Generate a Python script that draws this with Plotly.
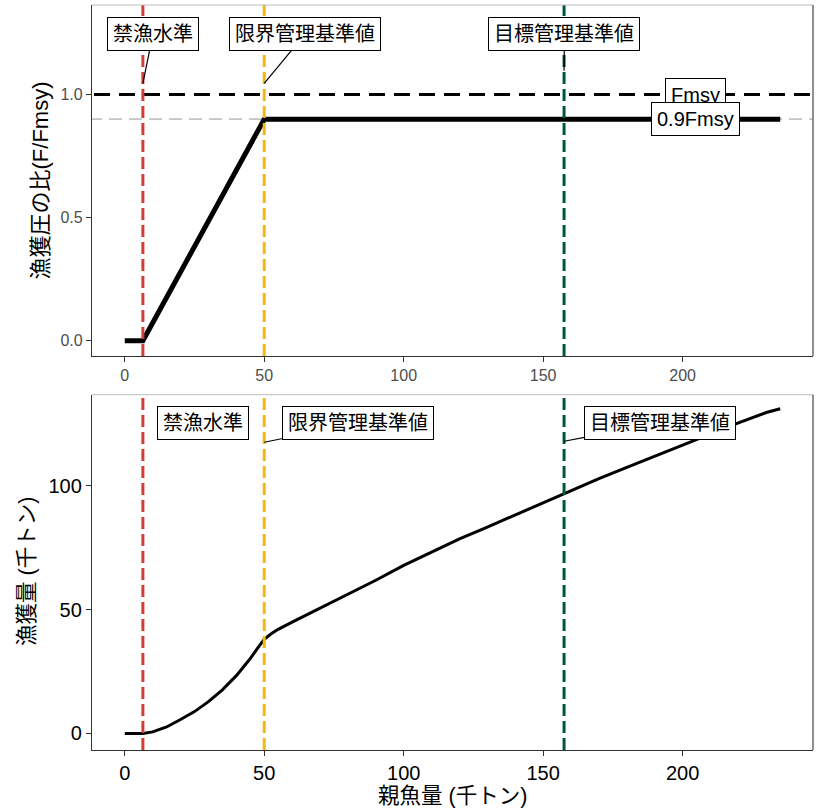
import plotly.graph_objects as go

# ---- data ----
ssb_f = [0, 6.5, 50, 235]
f_ratio = [0, 0, 0.9, 0.9]

ssb_c = [0, 6.5, 10, 15, 20, 25, 30, 35, 40, 45, 47.5, 50, 52.5, 55, 60, 65, 70, 75, 80,
         90, 100, 110, 120, 130, 140, 150, 157.5, 160, 170, 180, 190, 200, 210, 220, 230, 235]
catch = [0, 0, 0.6, 2.6, 5.6, 8.8, 12.8, 17.6, 23.3, 30.2, 34.2, 38, 40.2, 42, 44.9, 47.7,
         50.5, 53.1, 55.9, 61.8, 67.8, 73.3, 78.5, 83.3, 88.2, 93, 97, 98.1, 102.8, 107.4,
         111.9, 116.4, 120.9, 125.3, 129.5, 131]

ref_names = ["禁漁水準", "限界管理基準値", "目標管理基準値"]
ref_values = [6.5, 50, 157.5]
ref_colors = ["#CF3F33", "#EFB912", "#00573F"]

fmsy_levels = [1.0, 0.9]
fmsy_labels = ["Fmsy", "0.9Fmsy"]

x_ticks = [0, 50, 100, 150, 200]
top_y_ticks = [0.0, 0.5, 1.0]
bot_y_ticks = [0, 50, 100]

FONT = "Liberation Sans, Noto Sans CJK JP, sans-serif"

fig = go.Figure()

# top panel: Fmsy reference lines
fig.add_trace(go.Scatter(x=[-20, 260], y=[fmsy_levels[1]] * 2, mode="lines",
                         line=dict(color="#C4C4C4", width=1.8, dash="13px,7px"),
                         xaxis="x", yaxis="y", hoverinfo="skip", showlegend=False))
fig.add_trace(go.Scatter(x=[-20, 260], y=[fmsy_levels[0]] * 2, mode="lines",
                         line=dict(color="black", width=3, dash="16px,9px"),
                         xaxis="x", yaxis="y", hoverinfo="skip", showlegend=False))
# HCR curve
fig.add_trace(go.Scatter(x=ssb_f, y=f_ratio, mode="lines",
                         line=dict(color="black", width=5),
                         xaxis="x", yaxis="y", showlegend=False))
# bottom panel: catch curve
fig.add_trace(go.Scatter(x=ssb_c, y=catch, mode="lines",
                         line=dict(color="black", width=3),
                         xaxis="x2", yaxis="y2", showlegend=False))

# vertical reference lines
shapes = []
for v, c in zip(ref_values, ref_colors):
    for xr, yr in (("x", "y domain"), ("x2", "y2 domain")):
        shapes.append(dict(type="line", xref=xr, yref=yr, x0=v, x1=v, y0=0, y1=1,
                           line=dict(color=c, width=3, dash="12px,5px"), layer="above"))
# panel borders (top/right)
for yr, xr in (("y domain", "x domain"), ("y2 domain", "x2 domain")):
    shapes.append(dict(type="line", xref=xr, yref=yr, x0=0, x1=1, y0=1, y1=1,
                       line=dict(color="#BDBDBD", width=1), layer="above"))
    shapes.append(dict(type="line", xref=xr, yref=yr, x0=1, x1=1, y0=0, y1=1,
                       line=dict(color="#555555", width=1.3), layer="above"))

ann = []
lab_font = dict(family=FONT, size=20, color="black")
box = dict(bgcolor="white", bordercolor="black", borderwidth=1, borderpad=5)
# top panel labels (text position, arrow head)
top_text_x = [10.1, 64.7, 157.6]
top_head_y = [1.046, 1.046, 1.097]
for name, v, tx, hy in zip(ref_names, ref_values, top_text_x, top_head_y):
    ann.append(dict(x=v, y=hy, xref="x", yref="y", ax=tx, ay=1.247, axref="x", ayref="y",
                    text=name, showarrow=True, arrowhead=0, arrowwidth=1.2, arrowcolor="black",
                    standoff=0, font=lab_font, **box))
# Fmsy labels
for lv, lt in zip(fmsy_levels, fmsy_labels):
    ann.append(dict(x=204.8, y=lv, xref="x", yref="y", text=lt, showarrow=False,
                    font=lab_font, **box))
# bottom panel labels
bot_text_x = [28.2, 83.7, 191.9]
bot_head = [None, (50, 117.5), (157.5, 117.9)]
for name, tx, hd in zip(ref_names, bot_text_x, bot_head):
    if hd is None:
        ann.append(dict(x=tx, y=125.3, xref="x2", yref="y2", text=name, showarrow=False,
                        font=lab_font, **box))
    else:
        ann.append(dict(x=hd[0], y=hd[1], xref="x2", yref="y2", ax=tx, ay=125.3,
                        axref="x2", ayref="y2", text=name, showarrow=True, arrowhead=0,
                        arrowwidth=1.2, arrowcolor="black", standoff=0, font=lab_font, **box))
# axis titles (pixel positions, converted below)
ann.append(dict(text="漁獲圧の比(F/Fmsy)", x=40, y=180.5, xref="paper", yref="paper",
                showarrow=False, textangle=-90, font=dict(family=FONT, size=22, color="black")))
ann.append(dict(text="漁獲量 (千トン)", x=27, y=572, xref="paper", yref="paper",
                showarrow=False, textangle=-90, font=dict(family=FONT, size=21.5, color="black")))
ann.append(dict(text="親魚量 (千トン)", x=452.5, y=796, xref="paper", yref="paper",
                showarrow=False, font=dict(family=FONT, size=21.5, color="black")))

W, H = 816, 808
ML, MR, MT, MB = 92, 3, 5, 58
PW, PH = W - ML - MR, H - MT - MB
for a in ann[-3:]:
    a["x"] = (a["x"] - ML) / PW
    a["y"] = (H - MB - a["y"]) / PH
    a["xanchor"] = "center"
    a["yanchor"] = "middle"

axis_common = dict(showgrid=False, zeroline=False, showline=True, linecolor="#333333",
                   linewidth=1.3, ticks="outside", ticklen=5, tickcolor="#333333",
                   tickwidth=1.2, automargin=False)

top_dom = [(H - MB - 356) / PH, 1.0]
bot_dom = [0.0, (H - MB - 394.7) / PH]

fig.update_layout(
    width=W, height=H, margin=dict(l=ML, r=MR, t=MT, b=MB, autoexpand=False),
    paper_bgcolor="white", plot_bgcolor="white", showlegend=False,
    xaxis=dict(**axis_common, range=[-11.75, 246.75], tickvals=x_ticks, anchor="y",
               tickfont=dict(family=FONT, size=16, color="#4D4D4D")),
    yaxis=dict(**axis_common, range=[-0.062, 1.364], tickvals=top_y_ticks, tickformat=".1f",
               domain=top_dom, anchor="x",
               tickfont=dict(family=FONT, size=16, color="#4D4D4D")),
    xaxis2=dict(**axis_common, range=[-11.75, 246.75], tickvals=x_ticks, anchor="y2",
                tickfont=dict(family=FONT, size=20, color="black")),
    yaxis2=dict(**axis_common, range=[-6.7, 136.7], tickvals=bot_y_ticks, domain=bot_dom,
                anchor="x2", tickfont=dict(family=FONT, size=20, color="black")),
    shapes=shapes, annotations=ann,
)

fig.write_html("out.html", config={"displayModeBar": False},
               post_script="document.body.style.margin='0';document.body.style.overflow='hidden';")
